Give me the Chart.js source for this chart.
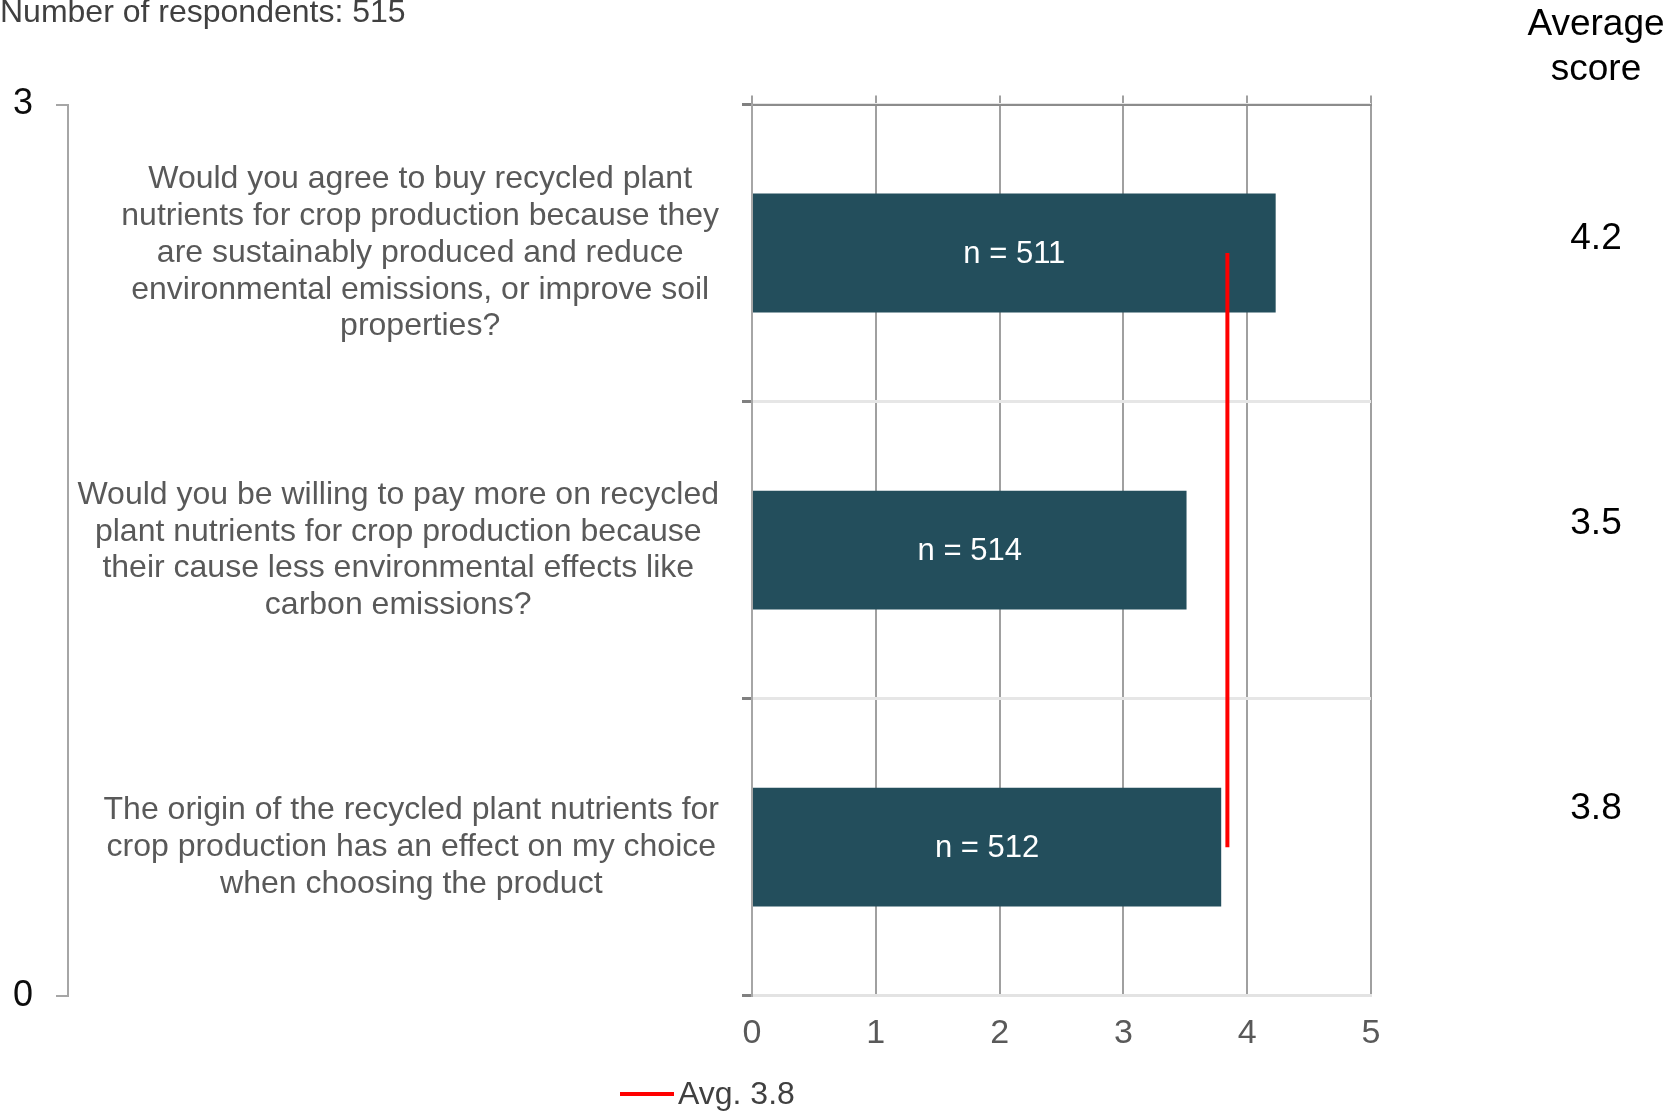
<!DOCTYPE html>
<html>
<head>
<meta charset="utf-8">
<script src="https://cdn.jsdelivr.net/npm/chart.js@4.4.1/dist/chart.umd.min.js"></script>
<style>
  html, body { margin: 0; padding: 0; background: #fff; overflow: hidden; }
  #wrap { position: relative; width: 1672px; height: 1112px; font-family: "Liberation Sans", Arial, sans-serif; }
  #chart { position: absolute; left: 0; top: 0; }
  .txt { position: absolute; white-space: nowrap; }
  #respondents { left: 0; top: -5px; font-size: 32px; line-height: 32px; color: #404040; }
  #avgHead { left: 1496px; top: 1px; width: 200px; text-align: center; font-size: 37px; line-height: 44.5px; color: #000; }
  .score { width: 200px; left: 1496px; text-align: center; font-size: 37px; line-height: 44px; color: #000; }
  #legend { left: 620px; top: 1075px; height: 36px; font-size: 32px; line-height: 36px; color: #404040; }
  #legend span.swatch { display: inline-block; width: 54px; height: 4px; background: #ff0000; vertical-align: middle; margin-right: 4px; margin-top: -4px; }
</style>
</head>
<body>
<div id="wrap">
  <canvas id="chart" width="1672" height="1112"></canvas>
  <div class="txt" id="respondents"></div>
  <div class="txt" id="avgHead">Average<br>score</div>
  <div class="txt" id="legend"></div>
</div>
<script>
const respondents = 515;
const questions = [
  ["Would you agree to buy recycled plant", "nutrients for crop production because they", "are sustainably produced and reduce", "environmental emissions, or improve soil", "properties?"],
  ["Would you be willing to pay more on recycled", "plant nutrients for crop production because", "their cause less environmental effects like", "carbon emissions?"],
  ["The origin of the recycled plant nutrients for", "crop production has an effect on my choice", "when choosing the product"],
];
const scoreValues = [4.23, 3.51, 3.79];
const scoreLabels = [4.2, 3.5, 3.8];
const nValues = [511, 514, 512];
const avgValue = 3.84;
const avgSpan = [2.5, 0.5];
const xTicks = [0, 1, 2, 3, 4, 5];
const scoreTops = [215, 500, 785];

document.addEventListener("DOMContentLoaded", function () {
  const font = "'Liberation Sans', Arial, sans-serif";
  Chart.defaults.font.family = font;

  document.getElementById("respondents").textContent = "Number of respondents: " + respondents;
  document.getElementById("legend").innerHTML =
    '<span class="swatch"></span>Avg. ' + avgValue.toFixed(1);

  const wrap = document.getElementById("wrap");
  scoreLabels.forEach((s, i) => {
    const d = document.createElement("div");
    d.className = "txt score";
    d.style.top = scoreTops[i] + "px";
    d.textContent = s.toFixed(1);
    wrap.appendChild(d);
  });

  // question texts: right-aligned block, lines centred inside it
  const questionLabels = {
    id: "questionLabels",
    afterDraw(chart) {
      const ctx = chart.ctx;
      const y = chart.scales.y;
      const lh = 36.8;
      ctx.save();
      ctx.font = "32px " + font;
      ctx.fillStyle = "#595959";
      ctx.textAlign = "center";
      ctx.textBaseline = "middle";
      const right = y.right - 33;
      questions.forEach((lines, i) => {
        const w = Math.max(...lines.map((l) => ctx.measureText(l).width));
        const cx = right - w / 2;
        const cy = y.getPixelForValue(i);
        lines.forEach((l, j) => {
          ctx.fillText(l, cx, cy + (j - (lines.length - 1) / 2) * lh);
        });
      });
      ctx.restore();
    },
  };

  // "n = ..." inside each bar
  const barLabels = {
    id: "barLabels",
    afterDatasetsDraw(chart) {
      const ctx = chart.ctx;
      const meta = chart.getDatasetMeta(0);
      ctx.save();
      ctx.font = "31px " + font;
      ctx.fillStyle = "#ffffff";
      ctx.textAlign = "center";
      ctx.textBaseline = "middle";
      meta.data.forEach((bar, i) => {
        const p = bar.getCenterPoint();
        ctx.fillText("n = " + nValues[i], p.x, p.y + 1);
      });
      ctx.restore();
    },
  };

  const ctx = document.getElementById("chart").getContext("2d");
  new Chart(ctx, {
    type: "bar",
    data: {
      labels: questions.map((q) => q.join(" ")),
      datasets: [
        {
          label: "Average score",
          data: scoreValues,
          backgroundColor: "#234e5c",
          borderWidth: 0,
          grouped: false,
          categoryPercentage: 1,
          barPercentage: 0.4,
          xAxisID: "x",
          yAxisID: "y",
          order: 2,
        },
        {
          type: "line",
          label: "Avg. " + avgValue.toFixed(1),
          data: avgSpan.map((v) => ({ x: avgValue, y: v })),
          borderColor: "#ff0000",
          borderWidth: 4,
          pointRadius: 0,
          fill: false,
          xAxisID: "x",
          yAxisID: "yAvg",
          order: 1,
        },
      ],
    },
    options: {
      indexAxis: "y",
      responsive: false,
      animation: false,
      devicePixelRatio: 1,
      layout: { padding: { top: 95.5, left: 0, right: 301, bottom: 39.5 } },
      plugins: { legend: { display: false }, tooltip: { enabled: false } },
      scales: {
        x: {
          type: "linear",
          position: "bottom",
          min: xTicks[0],
          max: xTicks[xTicks.length - 1],
          afterBuildTicks: (s) => { s.ticks = xTicks.map((v) => ({ value: v })); },
          grid: { color: "#a0a0a0", lineWidth: 2, drawTicks: false },
          border: { color: "#e3e3e3", width: 3 },
          ticks: { color: "#595959", font: { size: 34 }, padding: 18 },
        },
        xTop: {
          type: "linear",
          position: "top",
          min: xTicks[0],
          max: xTicks[xTicks.length - 1],
          afterBuildTicks: (s) => { s.ticks = xTicks.map((v) => ({ value: v })); },
          grid: { color: "#a0a0a0", lineWidth: 2, drawOnChartArea: false, drawTicks: true, tickLength: 9 },
          border: { color: "#8c8c8c", width: 2 },
          ticks: { display: false },
        },
        y: {
          type: "category",
          position: "left",
          weight: 0,
          offset: true,
          grid: { offset: true, color: "#e6e6e6", lineWidth: 3, tickColor: "#808080", tickLength: 10, drawTicks: true },
          border: { color: "#a6a6a6", width: 2 },
          ticks: { display: false },
          afterFit: (s) => { s.width = 684; },
        },
        yAvg: {
          type: "linear",
          position: "left",
          weight: 1,
          offset: false,
          min: 0,
          max: 3,
          ticks: { stepSize: 3, color: "#0d0d0d", font: { size: 36 }, padding: 23 },
          grid: { offset: false, drawOnChartArea: false, color: "#a6a6a6", lineWidth: 2, tickLength: 12 },
          border: { color: "#a6a6a6", width: 2 },
          afterFit: (s) => { s.width = 68; },
        },
      },
    },
    plugins: [questionLabels, barLabels],
  });
});
</script>
</body>
</html>
